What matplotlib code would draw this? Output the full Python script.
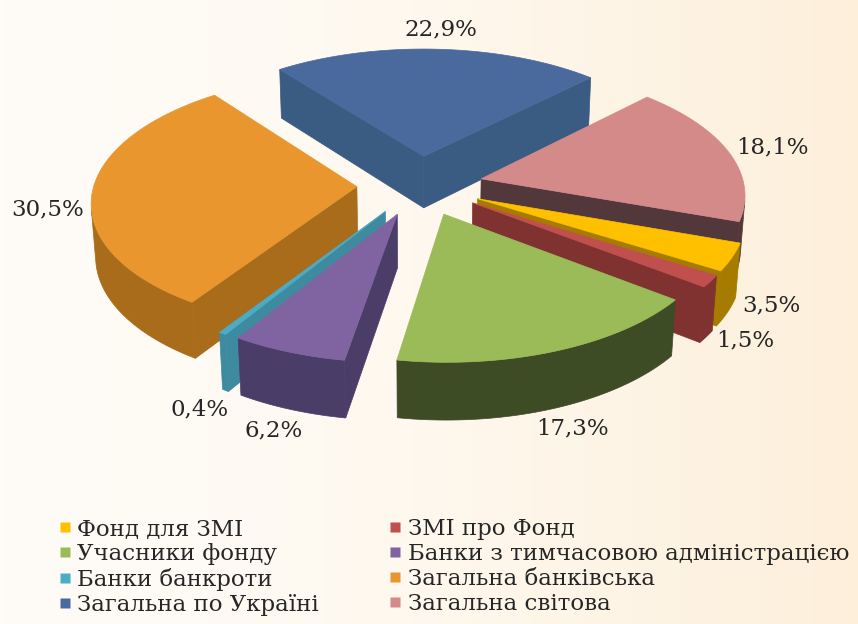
import numpy as np
import matplotlib
matplotlib.use('Agg')
import matplotlib.pyplot as plt
from matplotlib.patches import Polygon
from matplotlib.lines import Line2D

# Data
labels = ['Фонд для ЗМІ', 'ЗМІ про Фонд', 'Учасники фонду', 'Банки з тимчасовою адміністрацією',
          'Банки банкроти', 'Загальна банківська', 'Загальна по Україні', 'Загальна світова']
values = [3.5, 1.5, 17.3, 6.2, 0.4, 30.5, 22.9, 18.1]
value_text = ['3,5%', '1,5%', '17,3%', '6,2%', '0,4%', '30,5%', '22,9%', '18,1%']
top_colors = ['#FFC000', '#C0504D', '#9BBB59', '#8064A2', '#4BACC6', '#E8962D', '#4A6A9E', '#D58A8A']
side_colors = ['#A67C00', '#7F3230', '#3D4C25', '#4A3D68', '#3E8BA0', '#A86C1A', '#3A5B82', '#52383B']

# 3D pie geometry
start_deg = -19.5        # first slice starts here and goes clockwise
explode = 0.24
height = 0.23
tilt = np.radians(28.4)
dist = 8.0
scale = 263
cx, cy = 420, 185.5
cam = np.array([0.0, -dist * np.cos(tilt), dist * np.sin(tilt)])


def proj(X, Y, Z):
    d = dist + Y * np.cos(tilt) - Z * np.sin(tilt)
    s = dist / d
    sx = cx + scale * X * s
    sy = cy - scale * (Y * np.sin(tilt) + Z * np.cos(tilt)) * s
    return np.column_stack([sx, sy])


def facing(normal, point):
    return np.dot(normal, cam - point) > 0


def add_face(q, color, zo):
    ax.add_patch(Polygon(q, closed=True, facecolor=color, edgecolor=color, linewidth=0.5, zorder=zo))


fig = plt.figure(figsize=(8.58, 6.24), dpi=100)
ax = fig.add_axes([0, 0, 1, 1])
ax.set_xlim(0, 858)
ax.set_ylim(624, 0)
ax.axis('off')

# background gradient
grad = np.linspace(0, 1, 256) ** 1.6
c0 = np.array([255, 252, 247]) / 255
c1 = np.array([253, 239, 218]) / 255
img = c0[None, None, :] * (1 - grad[None, :, None]) + c1[None, None, :] * grad[None, :, None]
ax.imshow(np.repeat(img, 2, axis=0), extent=[0, 858, 624, 0], aspect='auto', zorder=0)

total = sum(values)
angles = []
a = np.radians(start_deg)
for v in values:
    span = 2 * np.pi * v / total
    angles.append((a, a - span))
    a -= span

slices = []
for i, (a0, a1) in enumerate(angles):
    mid = (a0 + a1) / 2
    ox, oy = explode * np.cos(mid), explode * np.sin(mid)
    th = np.linspace(a0, a1, max(3, int(abs(a0 - a1) / 0.02)))
    slices.append((np.sin(mid), i, th, ox, oy, mid))

# draw from back to front
slices.sort(key=lambda t: -t[0])
zo = 2
for _, i, th, ox, oy, mid in slices:
    rx = ox + np.cos(th)
    ry = oy + np.sin(th)
    # radial side faces
    for k, nrm in ((0, [-np.sin(th[0]), np.cos(th[0]), 0]), (-1, [np.sin(th[-1]), -np.cos(th[-1]), 0])):
        X = np.array([ox, rx[k], rx[k], ox])
        Y = np.array([oy, ry[k], ry[k], oy])
        Z = np.array([0, 0, -height, -height])
        if facing(np.array(nrm), np.array([X.mean(), Y.mean(), -height / 2])):
            add_face(proj(X, Y, Z), side_colors[i], zo)
    # outer wall, visible runs merged into one polygon each
    tm = (th[:-1] + th[1:]) / 2
    vis = [facing(np.array([np.cos(t), np.sin(t), 0]),
                  np.array([ox + np.cos(t), oy + np.sin(t), -height / 2])) for t in tm]
    j = 0
    while j < len(vis):
        if not vis[j]:
            j += 1
            continue
        j0 = j
        while j < len(vis) and vis[j]:
            j += 1
        idx = np.arange(j0, j + 1)
        up = proj(rx[idx], ry[idx], np.zeros(len(idx)))
        dn = proj(rx[idx], ry[idx], np.full(len(idx), -height))
        add_face(np.vstack([up, dn[::-1]]), side_colors[i], zo)
    top = proj(np.r_[ox, rx], np.r_[oy, ry], np.zeros(len(th) + 1))
    add_face(top, top_colors[i], zo + 1)
    zo += 2

# data labels, pushed outward from the rim
for _, i, th, ox, oy, mid in slices:
    c, s = np.cos(mid), np.sin(mid)
    r = 1.0 + explode + 0.03
    zl = 0.0 if s > 0.2 else -height * min(1.0, 0.28 - s)
    p = proj(np.array([r * c]), np.array([r * s]), np.array([zl]))[0]
    ax.text(p[0] + c * 38, p[1] - s * 17, value_text[i], ha='center', va='center', fontsize=16.5,
            color='#262626', family='DejaVu Serif', zorder=50)

# legend, filled row by row
order = [0, 2, 4, 6, 1, 3, 5, 7]
handles = [Line2D([], [], linestyle='none', marker='s', markersize=7,
                  markerfacecolor=top_colors[k], markeredgecolor='none') for k in order]
ax.legend(handles, [labels[k] for k in order], ncol=2, loc='upper left',
          bbox_to_anchor=(0.058, 0.184), frameon=False, handlelength=0.5, handletextpad=0.3,
          columnspacing=3.08, labelspacing=0.12, borderaxespad=0,
          prop={'family': 'DejaVu Serif', 'size': 16.5}, labelcolor='#262626')

fig.savefig('out.png', dpi=100)
